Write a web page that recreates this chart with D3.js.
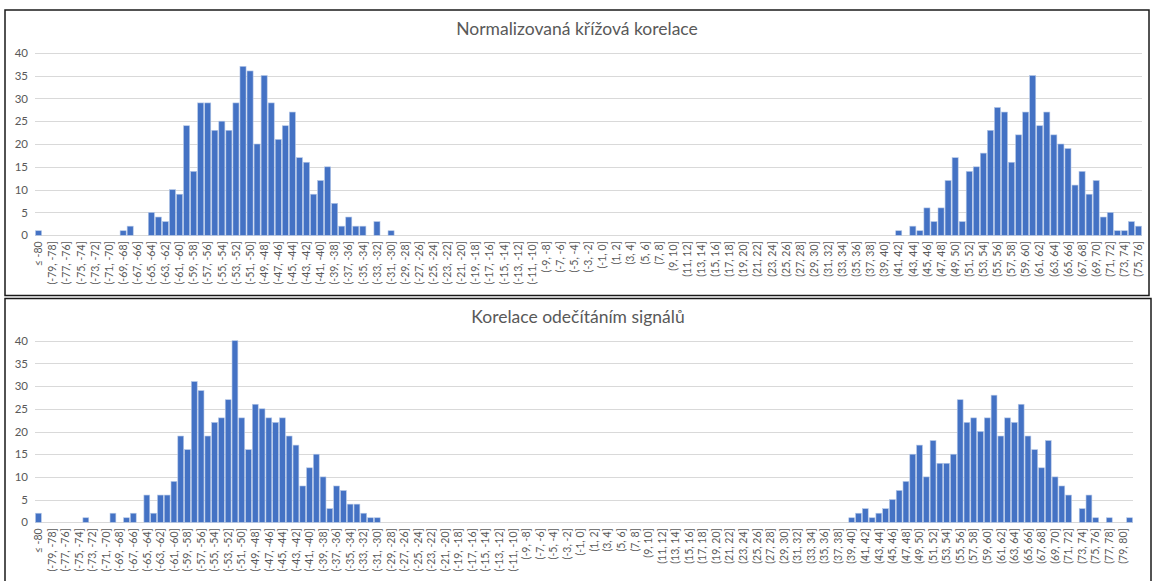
<!DOCTYPE html>
<html>
<head>
<meta charset="utf-8">
<script src="https://cdn.jsdelivr.net/npm/d3@7"></script>
<style>
  html, body { margin: 0; padding: 0; background: #fff; }
  svg { display: block; }
</style>
</head>
<body>
<svg id="chart" width="1154" height="581"></svg>
<script>
// ---- Data ----
const yTicks = [0, 5, 10, 15, 20, 25, 30, 35, 40];

// Top panel: bins "≤ -80", (-80,-79], ... , (75,76]
const topTitle = "Normalizovaná křížová korelace";
const topCounts = [
  1, 0, 0, 0, 0, 0, 0, 0, 0, 0, 0, 0, 1, 2, 0, 0, 5, 4, 3, 10,
  9, 24, 14, 29, 29, 23, 25, 23, 29, 37, 36, 20, 35, 29, 21, 24, 27, 17, 16, 9,
  12, 15, 7, 2, 4, 2, 2, 0, 3, 0, 1, 0, 0, 0, 0, 0, 0, 0, 0, 0,
  0, 0, 0, 0, 0, 0, 0, 0, 0, 0, 0, 0, 0, 0, 0, 0, 0, 0, 0, 0,
  0, 0, 0, 0, 0, 0, 0, 0, 0, 0, 0, 0, 0, 0, 0, 0, 0, 0, 0, 0,
  0, 0, 0, 0, 0, 0, 0, 0, 0, 0, 0, 0, 0, 0, 0, 0, 0, 0, 0, 0,
  0, 0, 1, 0, 2, 1, 6, 3, 6, 12, 17, 3, 14, 15, 18, 23, 28, 27, 16, 22,
  27, 35, 24, 27, 22, 20, 19, 11, 14, 9, 12, 4, 5, 1, 1, 3, 2
];
const topLastEdge = 76;

// Bottom panel: bins "≤ -80", (-80,-79], ... , (79,80], "> 80"
const bottomTitle = "Korelace odečítáním signálů";
const bottomCounts = [
  2, 0, 0, 0, 0, 0, 0, 1, 0, 0, 0, 2, 0, 1, 2, 0, 6, 2, 6, 6,
  9, 19, 16, 31, 29, 19, 22, 23, 27, 40, 23, 16, 26, 25, 23, 22, 23, 19, 17, 8,
  12, 15, 10, 3, 8, 7, 4, 4, 2, 1, 1, 0, 0, 0, 0, 0, 0, 0, 0, 0,
  0, 0, 0, 0, 0, 0, 0, 0, 0, 0, 0, 0, 0, 0, 0, 0, 0, 0, 0, 0,
  0, 0, 0, 0, 0, 0, 0, 0, 0, 0, 0, 0, 0, 0, 0, 0, 0, 0, 0, 0,
  0, 0, 0, 0, 0, 0, 0, 0, 0, 0, 0, 0, 0, 0, 0, 0, 0, 0, 0, 0,
  1, 2, 3, 1, 2, 3, 5, 7, 9, 15, 17, 10, 18, 13, 13, 15, 27, 22, 23, 20,
  23, 28, 19, 23, 22, 26, 19, 16, 12, 18, 10, 8, 6, 0, 3, 6, 1, 0, 1, 0,
  0, 1
];
const bottomLastEdge = 80;
const firstEdge = -80;

// Category labels built from bin edges
function binLabels(n, lastEdge, overflow) {
  const labels = ["\u2264 " + firstEdge];
  for (let e = firstEdge; e < lastEdge; e++) labels.push("(" + e + ", " + (e + 1) + "]");
  if (overflow) labels.push("> " + lastEdge);
  return labels.slice(0, n);
}
const topLabels = binLabels(topCounts.length, topLastEdge, false);
const bottomLabels = binLabels(bottomCounts.length, bottomLastEdge, true);

// ---- Drawing ----
const svg = d3.select("#chart");
const FONT = "Lato, 'Open Sans', sans-serif";
const TXT = "#595959";

function panel(cfg) {
  const g = svg.append("g");
  g.append("rect")
    .attr("x", cfg.frame[0]).attr("y", cfg.frame[1])
    .attr("width", cfg.frame[2] - cfg.frame[0]).attr("height", cfg.frame[3] - cfg.frame[1])
    .attr("fill", "#fff").attr("stroke", "#1a1a1a").attr("stroke-width", 1.5);

  g.append("text")
    .attr("x", (cfg.frame[0] + cfg.frame[2]) / 2).attr("y", cfg.titleY)
    .attr("text-anchor", "middle")
    .attr("font-family", FONT).attr("font-size", 17.5).attr("fill", TXT)
    .text(cfg.title);

  const x = d3.scaleBand().domain(cfg.labels).range([cfg.left, cfg.right])
    .paddingInner(0.14).paddingOuter(0.07);
  const y = d3.scaleLinear().domain([0, 40]).range([cfg.bottom, cfg.top]);

  // gridlines
  g.append("g").selectAll("line").data(yTicks).join("line")
    .attr("x1", cfg.left).attr("x2", cfg.right)
    .attr("y1", d => Math.round(y(d)) + 0.5).attr("y2", d => Math.round(y(d)) + 0.5)
    .attr("stroke", "#d9d9d9").attr("stroke-width", 1);

  // y axis labels
  const yAxis = d3.axisLeft(y).tickValues(yTicks).tickSize(0).tickPadding(0);
  const ya = g.append("g").attr("transform", `translate(${cfg.left - 7},0)`).call(yAxis);
  ya.select(".domain").remove();
  ya.selectAll("text").attr("font-family", FONT).attr("font-size", 11.5).attr("fill", TXT);

  // bars
  const data = cfg.values.map((v, i) => ({ label: cfg.labels[i], v }));
  g.append("g").selectAll("rect").data(data.filter(d => d.v > 0)).join("rect")
    .attr("x", d => x(d.label)).attr("width", x.bandwidth())
    .attr("y", d => y(d.v)).attr("height", d => y(0) - y(d.v))
    .attr("fill", "#4472c4").attr("stroke", "#b4c7e7").attr("stroke-width", 0.6);

  // x axis
  const shown = cfg.labels.filter((d, i) => i % 2 === 0);
  const xAxis = d3.axisBottom(x).tickValues(shown).tickSize(0).tickPadding(0);
  const xa = g.append("g").attr("transform", `translate(0,${cfg.bottom})`).call(xAxis);
  xa.select(".domain").remove();
  xa.selectAll("text")
    .attr("font-family", FONT).attr("font-size", 10.5).attr("fill", TXT)
    .attr("transform", "rotate(-90)")
    .attr("text-anchor", "end")
    .attr("x", -6).attr("y", 0).attr("dy", "0.35em");
}

panel({
  title: topTitle, values: topCounts, labels: topLabels,
  frame: [5, 10, 1149, 295.5], left: 35, right: 1142, top: 52.7, bottom: 235.3, titleY: 35
});
panel({
  title: bottomTitle, values: bottomCounts, labels: bottomLabels,
  frame: [5, 298.5, 1151, 590], left: 35, right: 1133, top: 340.7, bottom: 522.3, titleY: 323
});
</script>
</body>
</html>
